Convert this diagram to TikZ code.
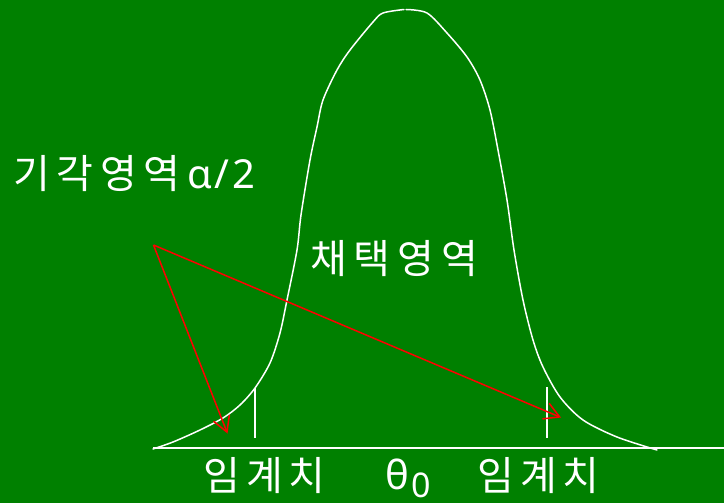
\documentclass[tikz,border=0pt]{standalone}
\usepackage{fontspec}
\setmainfont{Noto Sans CJK KR}
\newfontfamily\grk{Noto Sans}
\usetikzlibrary{arrows.meta}
\definecolor{bggreen}{RGB}{0,128,0}
\definecolor{arrred}{RGB}{255,0,0}
\newcommand{\hc}[2]{\makebox[#1]{#2}}
\begin{document}
\begin{tikzpicture}[x=1pt,y=-1pt,
  curve/.style={white,line width=1.5pt,line join=round,line cap=round},
  thinline/.style={white,line width=1.2pt},
  redarrow/.style={arrred,line width=1.5pt,-{Straight Barb[length=15pt,width=17pt]}},
  lbl/.style={text=white,inner sep=0pt,font=\fontsize{40}{48}\selectfont}]
\fill[bggreen] (0,0) rectangle (724,503);
\useasboundingbox (0,0) rectangle (724,503);
% bell curve (two halves)
\draw[curve] plot[smooth,tension=0.5] coordinates {(153,449) (173,442) (200,430) (223,418) (240,405) (255,388) (270,363) (280,333) (287,300) (297,250) (301,215) (310,160) (317,127) (323,100) (337,70) (350,50) (373,22) (383,13) (404,9.5)};
\draw[curve] plot[smooth,tension=0.5] coordinates {(406,9.5) (427,13) (447,33) (467,57) (480,80) (490,110) (498,150) (507,200) (514,250) (523,300) (533,340) (543,367) (560,397) (583,420) (617,437) (657,450)};
% axis and ticks
\coordinate (axL) at (153,448);
\coordinate (axR) at (724,448);
\draw[thinline] (axL) -- (axR);
\coordinate (t1a) at (255,388); \coordinate (t1b) at (255,438);
\coordinate (t2a) at (547,387); \coordinate (t2b) at (547,438);
\draw[thinline] (t1a) -- (t1b);
\draw[thinline] (t2a) -- (t2b);
% red arrows
\coordinate (src) at (153.5,245);
\coordinate (tipL) at (227.5,433.5);
\coordinate (tipR) at (561,417.5);
\draw[redarrow] (src) -- (tipL);
\draw[redarrow] (src) -- (tipR);
% labels
\node[lbl,anchor=base west] (reject) at (9.5,189) {\hc{43.5pt}{기}\hc{43.5pt}{각}\hc{43.5pt}{영}\hc{43.5pt}{역}\hspace{4pt}{\grk α\hspace{2pt}/\hspace{3pt}2}};
\node[lbl,anchor=base west] (accept) at (306.5,273) {\hc{43.7pt}{채}\hc{43.7pt}{택}\hc{43.7pt}{영}\hc{43.7pt}{역}};
\node[lbl,anchor=base west] (critL) at (200.5,490) {\hc{42.5pt}{임}\hc{42.5pt}{계}\hc{42.5pt}{치}};
\node[lbl,anchor=base west] (critR) at (474.5,490) {\hc{42.5pt}{임}\hc{42.5pt}{계}\hc{42.5pt}{치}};
\node[lbl,anchor=base west,font=\grk\fontsize{40}{48}\selectfont] (theta) at (385,489) {θ};
\node[lbl,anchor=base west,font=\grk\fontsize{34}{38}\selectfont] (zero) at (411.5,497) {0};
\end{tikzpicture}
\end{document}
